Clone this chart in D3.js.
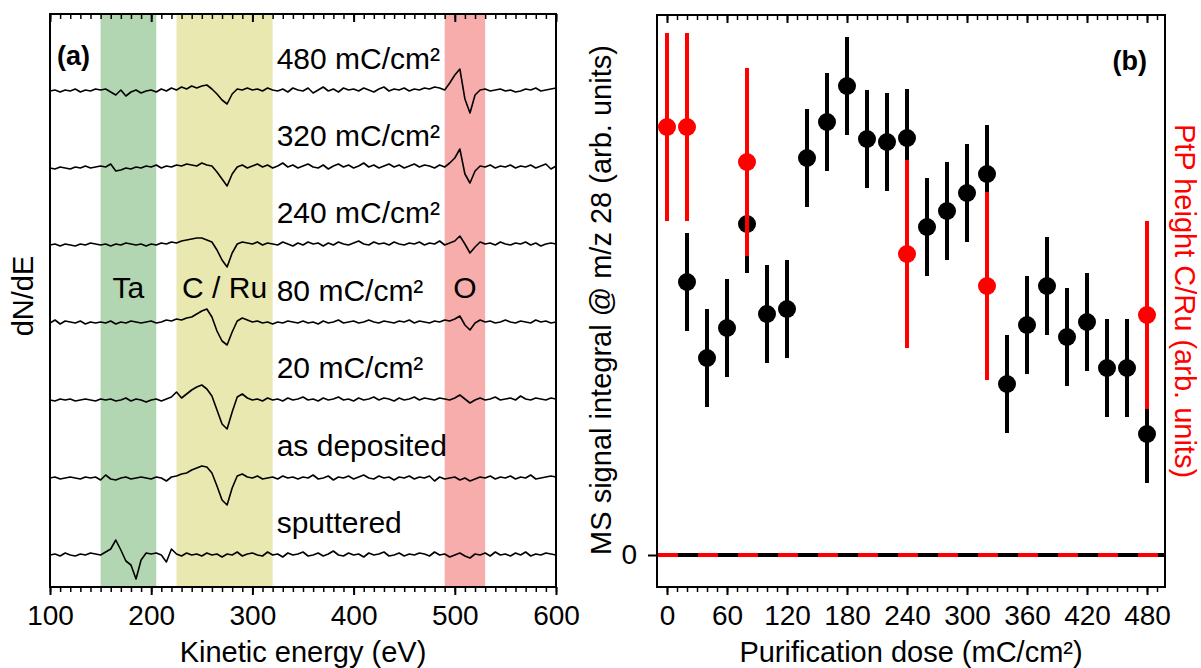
<!DOCTYPE html>
<html>
<head>
<meta charset="utf-8">
<script src="https://cdn.jsdelivr.net/npm/d3@7"></script>
<style>
	body { margin: 0; background: #fff; }
	text { font-family: "Liberation Sans", Arial, sans-serif; }
</style>
</head>
<body>
<svg id="fig" width="1201" height="668" viewBox="0 0 1201 668"></svg>
<script>

// ---- panel (a): AES spectra, one value every 5 eV from 100 to 600 eV
const ENERGY_START = 100;
const ENERGY_STEP = 5;
const SPECTRA_NAMES = ['sputtered', 'as deposited', '20 mC/cm²', '80 mC/cm²', '240 mC/cm²', '320 mC/cm²', '480 mC/cm²'];
const SPECTRA_OFFSETS = [0, 77, 155, 232, 310, 387, 464];

const SPEC_SPUTTERED = [0, 1, -1, 2, 0, -1, 1, 0, 2, 1,
	0, 3, 6, 15, 5, -6, -10, -24, -5, 2,
	1, 2, 0, -7, 6, 1, -1, 2, 0, 1,
	-1, 2, 0, 1, -2, 1, 0, 3, -1, 1,
	2, 0, -1, 3, 0, 1, -2, 2, 0, 1,
	3, -1, 0, 2, -1, 1, 4, 0, -1, 2,
	0, 1, -2, 2, 0, 1, 3, -1, 0, 2,
	-1, 1, 0, 2, 1, -1, 3, 0, 1, -2,
	0, 2, -1, -3, 1, 0, 2, -1, 3, 0,
	1, -1, 2, 0, 3, -1, 1, 0, 2, 1, 0];
const SPEC_AS_DEPOSITED = [0, 1, -1, 0, 1, 0, -1, 1, 0, 1,
	-2, 3, -1, -2, 0, 1, -1, 0, 1, 0,
	-1, 1, 0, -3, 1, 2, 4, 5, 8, 10,
	12, 11, 5, -8, -22, -27, -10, 2, 4, 1,
	0, 2, -1, 0, 1, -1, 2, 0, 1, -1,
	1, 0, 3, -1, 0, 2, -2, 1, 0, 2,
	-1, 1, 3, 0, -1, 2, 0, 1, -2, 1,
	0, 2, -1, 1, 0, 2, -3, 1, -1, 0,
	1, -2, 0, -3, -1, 1, 0, 2, -1, 1,
	0, 2, -1, 1, 0, 3, -1, 0, 1, 2, 1];
const SPEC_20 = [0, -1, 1, 0, 1, -1, 0, 1, 0, -1,
	1, 0, 1, -1, 0, 2, -1, 1, 0, -2,
	0, 1, -1, 1, 3, 8, 2, 6, 10, 13,
	15, 11, 4, -10, -24, -29, -12, 3, 6, 2,
	0, 1, -1, 2, 0, 1, -1, 2, 0, 1,
	3, 0, 1, -1, 2, 0, 1, 3, 0, 1,
	-1, 2, 0, 1, 3, 0, 2, 1, -1, 2,
	0, 1, 3, 0, 2, 1, 0, 2, 1, 0,
	2, 5, 1, -3, 0, 2, 0, 1, 3, 0,
	1, 2, 0, 4, 1, 0, 2, 1, 0, 2, 1];
const SPEC_80 = [0, 3, -1, 2, 1, 0, 2, -1, 1, 0,
	1, 0, 2, -1, 1, 0, 2, 1, 0, 1,
	2, 0, 1, 3, 2, 4, 3, 5, 6, 9,
	12, 14, 6, -8, -18, -22, -9, 2, 5, 3,
	1, 2, 0, 1, -1, 1, 0, 2, 1, 0,
	2, 0, 1, -1, 2, 0, 1, 3, 0, 1,
	2, 0, 1, 3, 1, 0, 2, 1, 0, 2,
	1, 3, 0, 2, 1, 0, 2, 1, 3, 2,
	4, 7, -2, -7, 0, 3, 1, 2, 0, 1,
	3, 1, 0, 2, 1, 0, 3, 1, 2, 0, 1];
const SPEC_240 = [0, 1, -1, 1, 0, -1, 1, 0, 2, 1,
	0, 1, -1, 1, 0, 2, 1, 0, 1, -1,
	1, 0, 2, 1, 3, 2, 4, 5, 6, 7,
	7, 5, 3, -5, -15, -22, -8, 1, 3, 2,
	1, 3, 0, 2, 1, 0, 3, 1, -1, 2,
	0, 3, 1, 2, -1, 2, 0, 3, 1, 0,
	2, 4, 1, 0, 3, 1, 2, 0, 3, 1,
	0, 2, 1, 3, 0, 2, 1, 4, 0, 2,
	4, 9, 1, -8, -2, 3, 1, 2, 0, 3,
	1, 0, 2, 1, 3, 0, 2, -1, 1, 2, 1];
const SPEC_320 = [0, -1, 1, 0, -1, 1, 0, 2, 0, 1,
	2, 1, 4, -3, -2, 0, -1, 1, 0, 2,
	1, 3, 0, 2, 1, 3, 2, 4, 3, 2,
	5, 3, 2, -4, -11, -18, -6, 1, 3, 0,
	2, 4, 1, 3, 0, 2, 5, 1, 3, 0,
	2, 4, 1, 0, 3, -1, 2, 4, 1, 3,
	0, 2, 5, 1, 3, 0, 2, 4, 1, 3,
	0, 2, 4, 1, 3, 2, 0, 3, 1, 5,
	10, 19, -6, -15, -3, 2, 1, 3, 0, 2,
	1, 3, 0, 2, 1, 3, 0, 2, 4, -1, 2];
const SPEC_480 = [0, 1, -1, 1, 0, 2, -1, 1, 0, 2,
	1, 2, -1, -4, 1, -5, -1, 1, -2, 0,
	1, -1, 2, 0, 3, 1, 4, 2, 5, 3,
	5, 6, 2, -3, -9, -13, -3, 2, 1, 3,
	1, 2, 0, 3, 1, 0, 2, -1, 3, 1,
	0, 3, -2, 1, 4, 0, 2, -1, 3, 1,
	2, 0, 3, 1, -1, 2, 4, 0, 2, 1,
	3, 0, 2, 1, 3, 2, 4, 3, 1, 8,
	16, 22, -8, -22, -4, 1, 2, 0, 1, 2,
	0, 1, -1, 0, 2, 1, 3, 0, 1, 2, 3];
const SPECTRA = [SPEC_SPUTTERED, SPEC_AS_DEPOSITED, SPEC_20, SPEC_80, SPEC_240, SPEC_320, SPEC_480];

// element regions (eV)
const REGION_NAMES = ['Ta', 'C / Ru', 'O'];
const REGION_START = [150, 225, 490];
const REGION_END = [205, 320, 530];
const REGION_COLORS = ['#b1d6b1', '#e8e8b0', '#f8adad'];

// ---- panel (b): MS signal and PtP height vs dose
const MS_DOSE = [20, 40, 60, 80, 100, 120, 140, 160, 180, 200, 220, 240, 260, 280, 300, 320, 340, 360, 380, 400, 420, 440, 460, 480];
const MS_VALUE = [0.546, 0.394, 0.454, 0.662, 0.482, 0.492, 0.794, 0.866, 0.938, 0.832, 0.826, 0.834, 0.656, 0.688, 0.724, 0.762, 0.342, 0.460, 0.538, 0.436, 0.466, 0.374, 0.374, 0.242];
const MS_ERROR = [0.098, 0.098, 0.098, 0.098, 0.098, 0.098, 0.098, 0.098, 0.098, 0.098, 0.098, 0.098, 0.098, 0.098, 0.098, 0.098, 0.098, 0.098, 0.098, 0.098, 0.098, 0.098, 0.098, 0.098];
const PTP_DOSE = [0, 20, 80, 240, 320, 480];
const PTP_VALUE = [0.856, 0.856, 0.786, 0.602, 0.538, 0.480];
const PTP_ERROR = [0.188, 0.188, 0.188, 0.188, 0.188, 0.188];
const DOSE_TICKS = [0, 60, 120, 180, 240, 300, 360, 420, 480];

const svg = d3.select('#fig');
const FONT = 28;

function frame(g, x0, x1, y0, y1) {
	g.append('rect')
		.attr('x', x0).attr('y', y0)
		.attr('width', x1 - x0).attr('height', y1 - y0)
		.attr('fill', 'none')
		.attr('stroke', '#000')
		.attr('stroke-width', 2);
}

// ticks on bottom (outward, labelled) and top (inward)
function x_ticks(g, scale, y_bottom, y_top, major, minor, fmt) {
	const bottom = g.append('g')
		.attr('transform', `translate(0,${y_bottom})`)
		.call(d3.axisBottom(scale).tickValues(major).tickSize(8).tickPadding(10).tickFormat(fmt));
	bottom.select('.domain').remove();
	bottom.selectAll('text').attr('font-size', FONT).attr('fill', '#000')
		.attr('font-family', '"Liberation Sans", Arial, sans-serif');
	bottom.selectAll('line').attr('stroke-width', 2);

	const bottom_minor = g.append('g')
		.attr('transform', `translate(0,${y_bottom})`)
		.call(d3.axisBottom(scale).tickValues(minor).tickSize(5).tickFormat(''));
	bottom_minor.select('.domain').remove();
	bottom_minor.selectAll('line').attr('stroke-width', 1.5);

	const top = g.append('g')
		.attr('transform', `translate(0,${y_top})`)
		.call(d3.axisTop(scale).tickValues(major).tickSize(-8).tickFormat(''));
	top.select('.domain').remove();
	top.selectAll('line').attr('stroke-width', 2);

	const top_minor = g.append('g')
		.attr('transform', `translate(0,${y_top})`)
		.call(d3.axisTop(scale).tickValues(minor).tickSize(-5).tickFormat(''));
	top_minor.select('.domain').remove();
	top_minor.selectAll('line').attr('stroke-width', 1.5);
}

// ================= panel (a)
const xA = d3.scaleLinear().domain([100, 600]).range([50, 556]);
const yA = d3.scaleLinear().domain([-32, 541]).range([587, 14]);
const panel_a = svg.append('g');

panel_a.selectAll('rect.band')
	.data(REGION_NAMES)
	.enter()
	.append('rect')
		.classed('band', true)
		.attr('x', (d, i) => xA(REGION_START[i]))
		.attr('width', (d, i) => xA(REGION_END[i]) - xA(REGION_START[i]))
		.attr('y', yA(541))
		.attr('height', yA(-32) - yA(541))
		.attr('fill', (d, i) => REGION_COLORS[i]);

const line_a = d3.line()
	.x((d, i) => xA(ENERGY_START + i * ENERGY_STEP))
	.y(d => yA(d));

panel_a.selectAll('path.spectrum')
	.data(SPECTRA.map((s, k) => s.map(v => v + SPECTRA_OFFSETS[k])))
	.enter()
	.append('path')
		.classed('spectrum', true)
		.attr('d', line_a)
		.attr('fill', 'none')
		.attr('stroke', '#000')
		.attr('stroke-width', 1.6)
		.attr('stroke-linejoin', 'round');

panel_a.selectAll('text.spec-label')
	.data(SPECTRA_NAMES)
	.enter()
	.append('text')
		.classed('spec-label', true)
		.attr('x', xA(324))
		.attr('y', (d, i) => yA(SPECTRA_OFFSETS[i] + 22))
		.attr('font-size', 30)
		.text(d => d);

panel_a.selectAll('text.region-label')
	.data(REGION_NAMES)
	.enter()
	.append('text')
		.classed('region-label', true)
		.attr('x', (d, i) => xA((REGION_START[i] + REGION_END[i]) / 2))
		.attr('y', yA(SPECTRA_OFFSETS[3] + 25))
		.attr('text-anchor', 'middle')
		.attr('font-size', 30)
		.text(d => d);

frame(panel_a, 50, 556, 14, 587);
x_ticks(panel_a, xA, 587, 14, d3.range(100, 601, 100), d3.range(100, 601, 10), d3.format('d'));

panel_a.append('text')
	.attr('x', 57).attr('y', 65)
	.attr('font-size', 27).attr('font-weight', 'bold')
	.text('(a)');

panel_a.append('text')
	.attr('x', (50 + 556) / 2).attr('y', 662)
	.attr('text-anchor', 'middle')
	.attr('font-size', 29)
	.text('Kinetic energy (eV)');

panel_a.append('text')
	.attr('transform', 'translate(33,296) rotate(-90)')
	.attr('text-anchor', 'middle')
	.attr('font-size', 29)
	.text('dN/dE');

// ================= panel (b)
const xB = d3.scaleLinear().domain([-10, 498]).range([657, 1165]);
const yB = d3.scaleLinear().domain([-0.064, 1.08]).range([587, 15]);
const panel_b = svg.append('g');

// zero line: red with black dashes
panel_b.append('line')
	.attr('x1', xB(-10)).attr('x2', xB(498))
	.attr('y1', yB(0)).attr('y2', yB(0))
	.attr('stroke', '#f00').attr('stroke-width', 4);
panel_b.append('line')
	.attr('x1', xB(-10)).attr('x2', xB(498))
	.attr('y1', yB(0)).attr('y2', yB(0))
	.attr('stroke', '#000').attr('stroke-width', 4)
	.attr('stroke-dasharray', '20,20')
	.attr('stroke-dashoffset', 19);

const ms_data = MS_DOSE.map((d, i) => ({ x: d, y: MS_VALUE[i], e: MS_ERROR[i] }));
const ptp_data = PTP_DOSE.map((d, i) => ({ x: d, y: PTP_VALUE[i], e: PTP_ERROR[i] }));

function draw_series(data, color, cls) {
	const g = panel_b.append('g').classed(cls, true);
	g.selectAll('line')
		.data(data)
		.enter()
		.append('line')
			.attr('x1', d => xB(d.x)).attr('x2', d => xB(d.x))
			.attr('y1', d => yB(d.y - d.e)).attr('y2', d => yB(d.y + d.e))
			.attr('stroke', color)
			.attr('stroke-width', 4);
	g.selectAll('circle')
		.data(data)
		.enter()
		.append('circle')
			.attr('cx', d => xB(d.x))
			.attr('cy', d => yB(d.y))
			.attr('r', 9)
			.attr('fill', color);
}
draw_series(ms_data, '#000', 'ms');
draw_series(ptp_data, '#f00', 'ptp');

frame(panel_b, 657, 1165, 15, 587);
x_ticks(panel_b, xB, 587, 15, DOSE_TICKS, d3.range(0, 491, 10), d3.format('d'));

const y0_axis = panel_b.append('g')
	.attr('transform', 'translate(657,0)')
	.call(d3.axisLeft(yB).tickValues([0]).tickSize(9).tickPadding(11).tickFormat(d3.format('d')));
y0_axis.select('.domain').remove();
y0_axis.selectAll('line').attr('stroke-width', 2);
y0_axis.selectAll('text').attr('font-size', FONT).attr('fill', '#000')
	.attr('font-family', '"Liberation Sans", Arial, sans-serif');

panel_b.append('text')
	.attr('x', 1147).attr('y', 70)
	.attr('text-anchor', 'end')
	.attr('font-size', 27).attr('font-weight', 'bold')
	.text('(b)');

panel_b.append('text')
	.attr('x', (657 + 1165) / 2).attr('y', 662)
	.attr('text-anchor', 'middle')
	.attr('font-size', 29)
	.text('Purification dose (mC/cm²)');

panel_b.append('text')
	.attr('transform', 'translate(611,300) rotate(-90)')
	.attr('text-anchor', 'middle')
	.attr('font-size', 29)
	.text('MS signal integral @ m/z 28 (arb. units)');

panel_b.append('text')
	.attr('transform', 'translate(1175,301) rotate(90)')
	.attr('text-anchor', 'middle')
	.attr('font-size', 29)
	.attr('fill', '#f00')
	.text('PtP height C/Ru (arb. units)');

</script>
</body>
</html>
